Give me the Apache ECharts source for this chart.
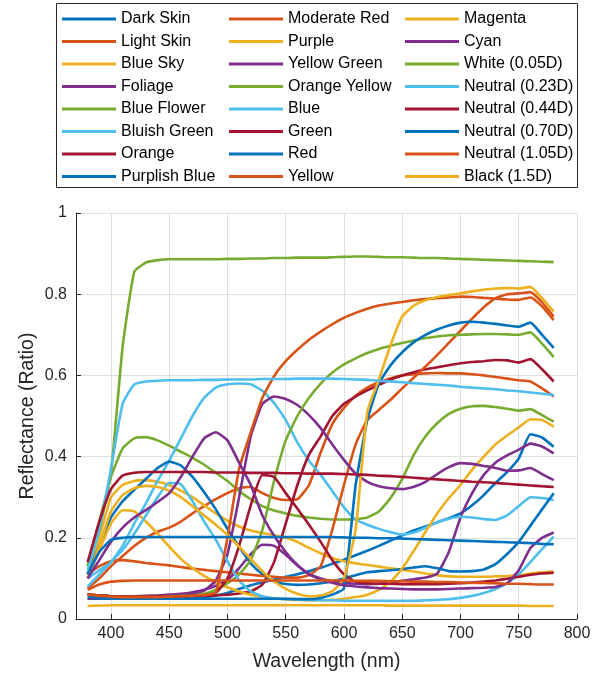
<!DOCTYPE html>
<html>
<head>
<meta charset="utf-8">
<title>Reflectance</title>
<script src="https://cdn.jsdelivr.net/npm/echarts@6/dist/echarts.min.js"></script>
<style>
html, body { margin: 0; padding: 0; background: #fff; }
#main { width: 603px; height: 677px; }
</style>
</head>
<body>
<div id="main"></div>
<script>
// wavelength samples (nm)
var wavelength = [380, 390, 400, 410, 420, 430, 440, 450, 460, 470, 480, 490, 500, 510, 520, 530, 540, 550, 560, 570, 580,
	590, 600, 610, 620, 630, 640, 650, 660, 670, 680, 690, 700, 710, 720, 730, 740, 750, 760, 770, 780];
var xTicks = [400, 450, 500, 550, 600, 650, 700, 750, 800];

var darkSkin = [0.05, 0.05, 0.05, 0.05, 0.05, 0.05, 0.05, 0.05, 0.05, 0.052, 0.054, 0.058, 0.064, 0.074, 0.083, 0.09, 0.097, 0.104, 0.11, 0.118, 0.126,
	0.136, 0.146, 0.157, 0.168, 0.18, 0.193, 0.206, 0.218, 0.228, 0.238, 0.248, 0.26, 0.28, 0.305, 0.335, 0.362, 0.395, 0.455, 0.447, 0.424];
var lightSkin = [0.075, 0.1, 0.13, 0.155, 0.18, 0.2, 0.215, 0.225, 0.24, 0.26, 0.278, 0.295, 0.31, 0.322, 0.325, 0.31, 0.298, 0.293, 0.295, 0.33, 0.41,
	0.48, 0.52, 0.55, 0.57, 0.583, 0.593, 0.6, 0.603, 0.605, 0.606, 0.605, 0.605, 0.603, 0.6, 0.596, 0.592, 0.588, 0.585, 0.568, 0.548];
var blueSky = [0.11, 0.2, 0.3, 0.33, 0.34, 0.342, 0.338, 0.33, 0.316, 0.3, 0.28, 0.26, 0.242, 0.228, 0.218, 0.212, 0.207, 0.2, 0.19, 0.175, 0.162,
	0.15, 0.142, 0.137, 0.133, 0.129, 0.125, 0.121, 0.117, 0.112, 0.108, 0.105, 0.104, 0.104, 0.104, 0.105, 0.106, 0.108, 0.112, 0.115, 0.117];
var foliage = [0.05, 0.052, 0.054, 0.055, 0.056, 0.057, 0.058, 0.06, 0.062, 0.066, 0.072, 0.082, 0.097, 0.125, 0.16, 0.183, 0.18, 0.158, 0.132, 0.112, 0.1,
	0.093, 0.089, 0.087, 0.086, 0.087, 0.09, 0.094, 0.098, 0.102, 0.112, 0.165, 0.25, 0.31, 0.355, 0.385, 0.403, 0.417, 0.432, 0.425, 0.408];
var blueFlower = [0.13, 0.24, 0.35, 0.42, 0.445, 0.448, 0.44, 0.427, 0.412, 0.397, 0.38, 0.36, 0.34, 0.315, 0.295, 0.278, 0.267, 0.26, 0.254, 0.25, 0.247,
	0.245, 0.245, 0.246, 0.25, 0.265, 0.298, 0.345, 0.405, 0.45, 0.482, 0.505, 0.518, 0.524, 0.525, 0.522, 0.518, 0.513, 0.517, 0.502, 0.486];
var bluishGreen = [0.1, 0.12, 0.14, 0.18, 0.235, 0.285, 0.34, 0.39, 0.445, 0.5, 0.545, 0.57, 0.578, 0.58, 0.578, 0.562, 0.532, 0.49, 0.435, 0.39, 0.355,
	0.315, 0.275, 0.245, 0.232, 0.222, 0.214, 0.208, 0.213, 0.225, 0.238, 0.247, 0.252, 0.25, 0.246, 0.244, 0.255, 0.278, 0.3, 0.298, 0.293];
var orange = [0.06, 0.058, 0.056, 0.055, 0.055, 0.055, 0.055, 0.055, 0.055, 0.056, 0.057, 0.058, 0.06, 0.063, 0.068, 0.085, 0.14, 0.235, 0.33, 0.405, 0.45,
	0.5, 0.53, 0.548, 0.563, 0.577, 0.59, 0.6, 0.608, 0.615, 0.62, 0.625, 0.63, 0.633, 0.635, 0.638, 0.637, 0.632, 0.64, 0.615, 0.585];
var purplishBlue = [0.11, 0.18, 0.25, 0.29, 0.318, 0.345, 0.372, 0.388, 0.378, 0.35, 0.312, 0.27, 0.222, 0.178, 0.137, 0.11, 0.093, 0.086, 0.084, 0.085, 0.088,
	0.093, 0.1, 0.108, 0.115, 0.118, 0.12, 0.123, 0.127, 0.13, 0.125, 0.118, 0.117, 0.118, 0.122, 0.135, 0.16, 0.19, 0.23, 0.27, 0.31];
var moderateRed = [0.11, 0.13, 0.142, 0.145, 0.142, 0.138, 0.135, 0.132, 0.128, 0.124, 0.121, 0.118, 0.115, 0.112, 0.109, 0.106, 0.104, 0.102, 0.102, 0.108, 0.13,
	0.22, 0.33, 0.43, 0.49, 0.515, 0.54, 0.568, 0.595, 0.622, 0.65, 0.68, 0.71, 0.74, 0.768, 0.79, 0.8, 0.802, 0.805, 0.78, 0.745];
var purple = [0.1, 0.17, 0.235, 0.268, 0.265, 0.24, 0.21, 0.178, 0.148, 0.125, 0.106, 0.09, 0.078, 0.068, 0.06, 0.055, 0.051, 0.048, 0.047, 0.046, 0.046,
	0.047, 0.05, 0.054, 0.06, 0.072, 0.092, 0.125, 0.168, 0.215, 0.26, 0.298, 0.33, 0.368, 0.4, 0.43, 0.452, 0.472, 0.492, 0.49, 0.474];
var yellowGreen = [0.06, 0.058, 0.056, 0.055, 0.055, 0.055, 0.056, 0.057, 0.058, 0.062, 0.07, 0.095, 0.16, 0.3, 0.45, 0.53, 0.548, 0.542, 0.527, 0.502, 0.47,
	0.43, 0.392, 0.358, 0.338, 0.327, 0.322, 0.32, 0.326, 0.338, 0.357, 0.374, 0.384, 0.382, 0.377, 0.372, 0.365, 0.366, 0.372, 0.357, 0.342];
var orangeYellow = [0.06, 0.058, 0.056, 0.055, 0.055, 0.055, 0.055, 0.056, 0.057, 0.058, 0.062, 0.072, 0.088, 0.11, 0.145, 0.22, 0.34, 0.44, 0.5, 0.545, 0.58,
	0.607, 0.627, 0.642, 0.655, 0.665, 0.673, 0.68, 0.686, 0.692, 0.696, 0.699, 0.7, 0.701, 0.702, 0.702, 0.701, 0.7, 0.706, 0.678, 0.645];
var blue = [0.08, 0.11, 0.14, 0.17, 0.21, 0.255, 0.3, 0.335, 0.332, 0.29, 0.24, 0.195, 0.142, 0.095, 0.068, 0.056, 0.051, 0.049, 0.048, 0.047, 0.046,
	0.046, 0.045, 0.045, 0.045, 0.045, 0.045, 0.045, 0.045, 0.046, 0.047, 0.049, 0.052, 0.057, 0.064, 0.074, 0.088, 0.11, 0.14, 0.172, 0.203];
var green = [0.06, 0.058, 0.056, 0.055, 0.055, 0.055, 0.055, 0.055, 0.056, 0.057, 0.059, 0.064, 0.1, 0.18, 0.28, 0.355, 0.35, 0.31, 0.272, 0.232, 0.19,
	0.145, 0.11, 0.092, 0.088, 0.087, 0.087, 0.086, 0.086, 0.086, 0.086, 0.087, 0.088, 0.09, 0.092, 0.095, 0.099, 0.104, 0.109, 0.112, 0.114];
var red = [0.055, 0.053, 0.051, 0.05, 0.05, 0.05, 0.05, 0.05, 0.05, 0.05, 0.05, 0.05, 0.05, 0.05, 0.05, 0.05, 0.05, 0.05, 0.049, 0.049, 0.052,
	0.06, 0.075, 0.33, 0.49, 0.58, 0.625, 0.657, 0.682, 0.7, 0.713, 0.723, 0.73, 0.732, 0.73, 0.727, 0.723, 0.72, 0.73, 0.7, 0.668];
var yellow = [0.06, 0.057, 0.055, 0.054, 0.054, 0.054, 0.054, 0.055, 0.056, 0.057, 0.059, 0.065, 0.2, 0.37, 0.46, 0.545, 0.598, 0.635, 0.663, 0.688, 0.708,
	0.726, 0.742, 0.754, 0.764, 0.772, 0.777, 0.781, 0.785, 0.788, 0.79, 0.792, 0.794, 0.793, 0.791, 0.789, 0.787, 0.786, 0.792, 0.77, 0.736];
var magenta = [0.1, 0.18, 0.265, 0.305, 0.322, 0.328, 0.325, 0.316, 0.3, 0.278, 0.255, 0.232, 0.207, 0.178, 0.148, 0.118, 0.093, 0.074, 0.062, 0.056, 0.058,
	0.068, 0.1, 0.22, 0.51, 0.59, 0.675, 0.745, 0.772, 0.785, 0.793, 0.798, 0.802, 0.807, 0.811, 0.814, 0.815, 0.814, 0.818, 0.79, 0.757];
var cyan = [0.1, 0.145, 0.19, 0.225, 0.25, 0.268, 0.288, 0.31, 0.35, 0.4, 0.445, 0.46, 0.44, 0.385, 0.33, 0.255, 0.205, 0.165, 0.133, 0.11, 0.098,
	0.089, 0.083, 0.08, 0.078, 0.076, 0.075, 0.074, 0.073, 0.073, 0.073, 0.074, 0.075, 0.076, 0.077, 0.079, 0.088, 0.12, 0.175, 0.2, 0.213];
var white = [0.13, 0.22, 0.36, 0.67, 0.855, 0.878, 0.884, 0.886, 0.886, 0.886, 0.886, 0.886, 0.887, 0.887, 0.888, 0.888, 0.889, 0.889, 0.89, 0.89, 0.89,
	0.891, 0.892, 0.893, 0.893, 0.892, 0.891, 0.891, 0.89, 0.889, 0.889, 0.888, 0.887, 0.886, 0.885, 0.884, 0.883, 0.882, 0.881, 0.88, 0.879];
var neutral023 = [0.12, 0.22, 0.37, 0.53, 0.578, 0.585, 0.587, 0.588, 0.588, 0.588, 0.589, 0.589, 0.59, 0.59, 0.59, 0.591, 0.591, 0.591, 0.592, 0.592, 0.592,
	0.592, 0.591, 0.59, 0.589, 0.587, 0.585, 0.583, 0.581, 0.579, 0.577, 0.575, 0.572, 0.57, 0.568, 0.566, 0.563, 0.561, 0.558, 0.555, 0.552];
var neutral044 = [0.14, 0.24, 0.32, 0.353, 0.36, 0.362, 0.362, 0.362, 0.362, 0.362, 0.362, 0.361, 0.361, 0.361, 0.36, 0.36, 0.36, 0.359, 0.359, 0.358, 0.358,
	0.358, 0.357, 0.356, 0.355, 0.353, 0.352, 0.35, 0.348, 0.346, 0.344, 0.342, 0.34, 0.338, 0.337, 0.335, 0.333, 0.331, 0.329, 0.327, 0.325];
var neutral070 = [0.11, 0.165, 0.195, 0.2, 0.202, 0.202, 0.202, 0.202, 0.202, 0.202, 0.202, 0.202, 0.202, 0.202, 0.202, 0.202, 0.202, 0.202, 0.202, 0.202, 0.202,
	0.202, 0.201, 0.2, 0.2, 0.199, 0.199, 0.198, 0.197, 0.196, 0.195, 0.194, 0.193, 0.192, 0.191, 0.19, 0.189, 0.188, 0.187, 0.185, 0.184];
var neutral105 = [0.072, 0.085, 0.092, 0.094, 0.095, 0.095, 0.095, 0.095, 0.095, 0.095, 0.095, 0.095, 0.095, 0.095, 0.095, 0.095, 0.095, 0.095, 0.095, 0.095, 0.095,
	0.095, 0.095, 0.094, 0.094, 0.094, 0.093, 0.093, 0.092, 0.092, 0.091, 0.091, 0.09, 0.089, 0.089, 0.088, 0.087, 0.087, 0.086, 0.085, 0.085];
var black = [0.032, 0.033, 0.034, 0.034, 0.034, 0.034, 0.034, 0.034, 0.034, 0.034, 0.034, 0.034, 0.034, 0.034, 0.034, 0.034, 0.034, 0.034, 0.034, 0.034, 0.034,
	0.034, 0.034, 0.034, 0.034, 0.034, 0.033, 0.033, 0.033, 0.033, 0.033, 0.033, 0.033, 0.033, 0.033, 0.033, 0.033, 0.033, 0.032, 0.032, 0.032];

var names = ['Dark Skin', 'Light Skin', 'Blue Sky', 'Foliage', 'Blue Flower', 'Bluish Green', 'Orange', 'Purplish Blue',
	'Moderate Red', 'Purple', 'Yellow Green', 'Orange Yellow', 'Blue', 'Green', 'Red', 'Yellow',
	'Magenta', 'Cyan', 'White (0.05D)', 'Neutral (0.23D)', 'Neutral (0.44D)', 'Neutral (0.70D)', 'Neutral (1.05D)', 'Black (1.5D)'];
var values = [darkSkin, lightSkin, blueSky, foliage, blueFlower, bluishGreen, orange, purplishBlue,
	moderateRed, purple, yellowGreen, orangeYellow, blue, green, red, yellow,
	magenta, cyan, white, neutral023, neutral044, neutral070, neutral105, black];

// matlab default line colours
var colors = ['#0072BD', '#D95319', '#EDB120', '#7E2F8E', '#77AC30', '#4DBEEE', '#A2142F'];
var txt = '#262626';
var font = 'Liberation Sans';

var series = [];
for (var i = 0; i < names.length; i++) {
	var c = colors[i % colors.length];
	series.push({
		name: names[i],
		type: 'line',
		data: wavelength.map(function(w, j) { return [w, values[i][j]]; }),
		showSymbol: false,
		symbol: 'none',
		smooth: 0.15,
		lineStyle: { width: 2.6, color: c },
		itemStyle: { color: c },
		emphasis: { disabled: true }
	});
}

function legendCol(left, list) {
	return {
		orient: 'vertical',
		left: left,
		top: 9,
		padding: 0,
		itemGap: 2.5,
		itemWidth: 54,
		itemHeight: 3,
		icon: 'rect',
		selectedMode: false,
		data: list,
		textStyle: { fontFamily: font, fontSize: 16, lineHeight: 20, color: '#000' }
	};
}

var chart = echarts.init(document.getElementById('main'));
chart.setOption({
	animation: false,
	backgroundColor: '#fff',
	legend: [
		legendCol(62, names.slice(0, 8)),
		legendCol(229, names.slice(8, 16)),
		legendCol(405, names.slice(16, 24))
	],
	graphic: [{
		type: 'rect',
		shape: { x: 56.5, y: 3.5, width: 521, height: 184 },
		style: { fill: 'none', stroke: txt, lineWidth: 1 },
		silent: true
	}],
	grid: { left: 76, right: 26, top: 213, bottom: 58 },
	xAxis: {
		type: 'value',
		min: 370,
		max: 800,
		name: 'Wavelength (nm)',
		nameLocation: 'middle',
		nameGap: 33,
		nameTextStyle: { fontFamily: font, fontSize: 19.5, color: txt },
		axisLine: { lineStyle: { color: txt, width: 1 } },
		axisTick: { inside: true, length: 5, customValues: xTicks, lineStyle: { color: txt } },
		axisLabel: { customValues: xTicks, margin: 7, fontFamily: font, fontSize: 16, color: txt },
		splitLine: { show: true, lineStyle: { color: '#dfdfdf', width: 1 } }
	},
	yAxis: {
		type: 'value',
		min: 0,
		max: 1,
		interval: 0.2,
		name: 'Reflectance (Ratio)',
		nameLocation: 'middle',
		nameGap: 38,
		nameMoveOverlap: false,
		nameTextStyle: { fontFamily: font, fontSize: 19.5, color: txt },
		axisLine: { show: true, lineStyle: { color: txt, width: 1 } },
		axisTick: { show: true, inside: true, length: 5, lineStyle: { color: txt } },
		axisLabel: { margin: 9, fontFamily: font, fontSize: 16, color: txt },
		splitLine: { show: true, lineStyle: { color: '#dfdfdf', width: 1 } }
	},
	series: series
});
</script>
</body>
</html>
